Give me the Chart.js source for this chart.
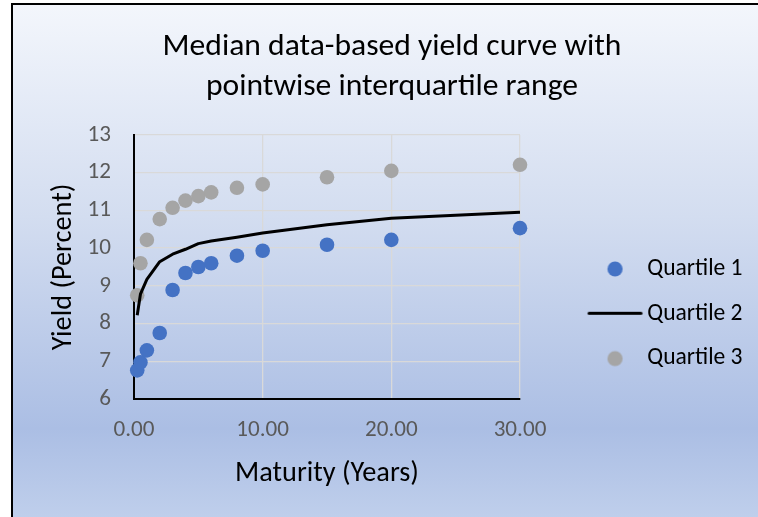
<!DOCTYPE html>
<html>
<head>
<meta charset="utf-8">
<script src="https://cdn.jsdelivr.net/npm/chart.js@4.4.1/dist/chart.umd.min.js"></script>
<style>
html,body{margin:0;padding:0;background:#fff;width:758px;height:517px;overflow:hidden;}
#bg{position:absolute;left:11px;top:3px;width:760px;height:530px;border-left:2px solid #000;border-top:2px solid #000;
background:linear-gradient(to bottom,#f3f6fc 0%,#d3ddf0 40%,#abbee4 80%,#c3d2ed 100%);}
#wrap{position:absolute;left:0;top:0;width:758px;height:517px;}
</style>
</head>
<body>
<div id="bg"></div>
<div id="wrap"><canvas id="c" width="758" height="517"></canvas></div>
<script>
// ---- data ----
const maturities = [0.25, 0.5, 1, 2, 3, 4, 5, 6, 8, 10, 15, 20, 30];
const quartile1 = [6.76, 6.97, 7.29, 7.75, 8.89, 9.34, 9.50, 9.60, 9.80, 9.93, 10.09, 10.22, 10.53];
const quartile2 = [8.22, 8.78, 9.17, 9.64, 9.84, 9.97, 10.12, 10.19, 10.29, 10.40, 10.62, 10.79, 10.95];
const quartile3 = [8.75, 9.60, 10.22, 10.77, 11.07, 11.26, 11.38, 11.48, 11.60, 11.69, 11.88, 12.05, 12.21];
const seriesNames = ['Quartile 1', 'Quartile 2', 'Quartile 3'];
const titleLines = ['Median data-based yield curve with', 'pointwise interquartile range'];
const xTitle = 'Maturity (Years)';
const yTitle = 'Yield (Percent)';
const xRange = [0, 30, 10];
const yRange = [6, 13, 1];

// ---- fonts ----
const mctx = document.createElement('canvas').getContext('2d');
function hasFont(f) {
  mctx.font = '100px "' + f + '", monospace';
  const a = mctx.measureText('Quartile 1 abcxyz').width;
  mctx.font = '100px monospace';
  const b = mctx.measureText('Quartile 1 abcxyz').width;
  return Math.abs(a - b) > 0.5;
}
const FAMILY = hasFont('Carlito') ? 'Carlito' : 'Lato';
function fitSize(text, target) {
  mctx.font = '100px "' + FAMILY + '"';
  return 100 * target / mctx.measureText(text).width;
}
const titleSize = fitSize(titleLines[0], 459);
const axisTitleSize = fitSize(xTitle, 184);
const tickSize = fitSize('0.00', 41);
const legendSize = fitSize('Quartile 1', 95.3);

// ---- layout targets (px) ----
const plotLeft = 134, plotRight = 520, plotTop = 135, plotBottom = 399;
const fs = legendSize;
const itemSpacing = 44.8;
const legPad = itemSpacing - fs;
const W = 40;
const textStart = 647.3;
const L = textStart - W - fs / 2;
const y2W = L - legPad - plotRight;
mctx.font = fs + 'px "' + FAMILY + '"';
const tw = Math.max(...seriesNames.map(s => mctx.measureText(s).width));
const padR = Math.max(0, 758 - (textStart + tw + 10));
const padL = 2 * 392 - 758 + padR;
const firstTextCenter = 269;
const legTitleH = (firstTextCenter - fs / 2) - plotTop - legPad;

// ---- legend icons ----
const iconCenter = 615;
const dx = iconCenter - (L + W / 2);
function makeIcon(kind, color) {
  const cw = Math.ceil(2 * (Math.abs(dx) + 32)), ch = 20;
  const cv = document.createElement('canvas');
  cv.width = cw; cv.height = ch;
  const c = cv.getContext('2d');
  const cx = cw / 2 + dx, cy = ch / 2;
  if (kind === 'line') {
    c.strokeStyle = color; c.lineWidth = 3; c.lineCap = 'round';
    c.beginPath(); c.moveTo(cx - 26, cy - 0.5); c.lineTo(cx + 26, cy - 0.5); c.stroke();
  } else {
    c.fillStyle = color;
    c.beginPath(); c.arc(cx, cy, 7.6, 0, Math.PI * 2); c.fill();
  }
  return cv;
}
const colors = ['#4472C4', '#000000', '#A5A5A5'];
const icons = [makeIcon('dot', colors[0]), makeIcon('line', colors[1]), makeIcon('dot', colors[2])];

function pts(ys) { return maturities.map((x, i) => ({x: x, y: ys[i]})); }

const gridColor = '#d9d9d9';

new Chart(document.getElementById('c'), {
  type: 'scatter',
  data: {
    datasets: [
      {label: seriesNames[0], data: pts(quartile1), showLine: false, pointRadius: 7.3, pointBorderWidth: 0,
       backgroundColor: colors[0], borderColor: colors[0], clip: false},
      {label: seriesNames[1], data: pts(quartile2), showLine: true, pointRadius: 0, borderWidth: 3,
       borderColor: colors[1], backgroundColor: colors[1], tension: 0, clip: false, borderCapStyle: 'butt', borderJoinStyle: 'round'},
      {label: seriesNames[2], data: pts(quartile3), showLine: false, pointRadius: 7.3, pointBorderWidth: 0,
       backgroundColor: colors[2], borderColor: colors[2], clip: false}
    ]
  },
  options: {
    responsive: false,
    animation: false,
    events: [],
    layout: {padding: {left: padL, right: padR, top: 0, bottom: 0}},
    plugins: {
      tooltip: {enabled: false},
      title: {
        display: true,
        text: titleLines,
        color: '#000',
        font: {family: FAMILY, size: titleSize, weight: 'normal', lineHeight: 40 / titleSize},
        padding: {top: 27.5, bottom: 27.5}
      },
      legend: {
        display: true,
        position: 'right',
        align: 'start',
        fullSize: false,
        maxWidth: 400,
        title: {display: true, text: '', font: {size: 10, lineHeight: 1}, padding: {top: 0, bottom: legTitleH - 10}},
        labels: {
          usePointStyle: true,
          pointStyleWidth: W,
          boxHeight: fs,
          padding: legPad,
          color: '#000',
          font: {family: FAMILY, size: fs},
          generateLabels(chart) {
            const items = Chart.defaults.plugins.legend.labels.generateLabels(chart);
            items.forEach((it, i) => { it.pointStyle = icons[i]; });
            return items;
          }
        }
      }
    },
    scales: {
      x: {
        type: 'linear',
        min: xRange[0], max: xRange[1],
        afterFit(s) { s.height = 517 - plotBottom; },
        ticks: {stepSize: xRange[2], color: '#595959', padding: 430.5 - plotBottom - tickSize * 0.6,
                font: {family: FAMILY, size: tickSize}, callback: v => Number(v).toFixed(2)},
        grid: {color: gridColor, lineWidth: 1.3, drawTicks: false},
        border: {display: true, color: '#000', width: 2},
        title: {display: true, text: xTitle, color: '#000', font: {family: FAMILY, size: axisTitleSize},
                padding: {top: 0, bottom: 517 - 474 - axisTitleSize * 0.6}}
      },
      y: {
        type: 'linear',
        min: yRange[0], max: yRange[1],
        afterFit(s) { s.width = plotLeft - padL; },
        ticks: {stepSize: yRange[2], color: '#595959', padding: 23, font: {family: FAMILY, size: tickSize}},
        grid: {color: gridColor, lineWidth: 1.3, drawTicks: false},
        border: {display: true, color: '#000', width: 2},
        title: {display: true, text: yTitle, color: '#000', font: {family: FAMILY, size: axisTitleSize},
                padding: {top: 64 - padL - axisTitleSize * 0.6, bottom: 0}}
      },
      y2: {
        type: 'linear',
        position: 'right',
        display: true,
        afterFit(s) { s.width = y2W; },
        ticks: {display: false},
        grid: {display: false, drawTicks: false},
        border: {display: false},
        title: {display: false}
      }
    }
  }
});
</script>
</body>
</html>
